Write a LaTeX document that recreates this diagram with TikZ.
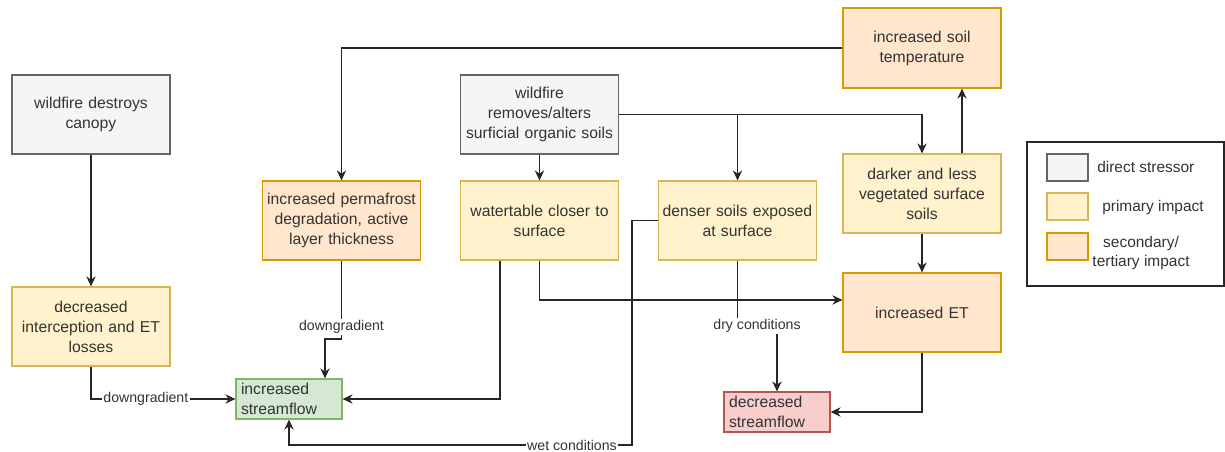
\documentclass[tikz,border=0pt]{standalone}
\usepackage{fontspec}
\setmainfont{Liberation Sans}
\usetikzlibrary{arrows.meta}
\definecolor{grayfill}{HTML}{F5F5F5}
\definecolor{grayline}{HTML}{666666}
\definecolor{yelfill}{HTML}{FFF2CC}
\definecolor{yelline}{HTML}{D6B656}
\definecolor{orfill}{HTML}{FFE6CC}
\definecolor{orline}{HTML}{D79B00}
\definecolor{grfill}{HTML}{D5E8D4}
\definecolor{grline}{HTML}{82B366}
\definecolor{rdfill}{HTML}{F8CECC}
\definecolor{rdline}{HTML}{B85450}
\definecolor{txt}{HTML}{333333}
\tikzset{
  box/.style={draw, line width=0.9pt, minimum width=118.5pt, minimum height=59.25pt,
    align=center, text width=117pt, inner sep=0.5pt, font=\fontsize{11.8}{15}\selectfont, text=txt},
  smallbox/.style={box, minimum width=79.5pt, minimum height=30pt, text width=72pt, inner sep=2pt, align=left},
  stressor/.style={fill=grayfill, draw=grayline},
  primary/.style={fill=yelfill, draw=yelline},
  secondary/.style={fill=orfill, draw=orline},
  conn/.style={draw=black!85, line width=0.85pt, -{Stealth[length=7.5pt,width=7pt]}},
  elabel/.style={fill=white, inner sep=1pt, font=\fontsize{10.6}{12}\selectfont, text=txt},
  swatch/.style={draw, line width=0.9pt, minimum width=30.75pt, minimum height=20.25pt, inner sep=0pt},
  legtext/.style={font=\fontsize{11.6}{14}\selectfont, text=txt, align=center, inner sep=0pt}
}
\begin{document}
\begin{tikzpicture}[x=0.75pt, y=-0.75pt]
\useasboundingbox (0,0) rectangle (1225,451);

% nodes
\node[box, stressor] (canopy) at (91,114.5) {wildfire destroys\\canopy};
\node[box, primary] (inter) at (91,326.5) {decreased\\interception and ET\\losses};
\node[box, secondary] (perm) at (341.5,220.5) {increased permafrost\\degradation, active\\layer thickness};
\node[smallbox, fill=grfill, draw=grline] (sflow) at (289,399) {increased\\streamflow};
\node[box, stressor] (removes) at (539.5,114.5) {wildfire\\removes/alters\\surficial organic soils};
\node[box, primary] (water) at (539.5,220.5) {watertable closer to\\surface};
\node[box, primary] (denser) at (737.5,220.5) {denser soils exposed\\at surface};
\node[box, secondary, minimum height=60pt] (temp) at (922,48) {increased soil\\temperature};
\node[box, primary] (darker) at (922,193.5) {darker and less\\vegetated surface\\soils};
\node[box, secondary] (ET) at (922,312.5) {increased ET};
\node[smallbox, fill=rdfill, draw=rdline] (dsflow) at (777,412) {decreased\\streamflow};

% legend
\node[draw=black!85, line width=0.9pt, minimum width=147.75pt, minimum height=108pt, inner sep=0pt] (legend) at (1125.5,214) {};
\node[swatch, stressor] (sw1) at (1067.5,167.5) {};
\node[swatch, primary] (sw2) at (1067.5,206.5) {};
\node[swatch, secondary] (sw3) at (1067.5,246.5) {};
\node[legtext, anchor=west] (l1) at (1097,167) {direct stressor};
\node[legtext, anchor=west] (l2) at (1102,207) {primary impact};
\node[legtext] (l3) at (1141,253) {secondary/\\tertiary impact};

% helper coordinates
\coordinate (p1) at (325,339);
\coordinate (d1) at (777,326);
\coordinate (w1) at (632,220.5);
\coordinate (w2) at (632,445);

% connectors
\draw[conn] (canopy) -- (inter);
\draw[conn] (inter.south) |- node[elabel, pos=0.69] {downgradient} (sflow.west);
\draw[conn] (temp.west) -| (perm.north);
\draw[conn] (perm.south) |- (p1) -- (p1 |- sflow.north);
\node[elabel] (lab1) at (341.5,327) {downgradient};
\draw[conn] ([xshift=-29.6pt]water.south) |- (sflow.east);
\draw[conn] (removes) -- (water);
\draw[conn] (removes.east) -| (darker.north);
\draw[conn] (removes.east -| denser.north) -- (denser.north);
\draw[conn] (water.south) |- ([yshift=9.4pt]ET.west);
\draw[conn] (denser.south) |- (d1) -- (dsflow.north);
\node[elabel] (lab2) at (757,326) {dry conditions};
\draw[conn] (ET.south) |- (dsflow.east);
\draw[conn] ([xshift=30pt]darker.north) -- ([xshift=30pt]temp.south);
\draw[conn] (darker) -- (ET);
\draw[conn] (denser.west) -- (w1) -- (w2) -| (sflow.south);
\node[elabel] (lab3) at (572,445) {wet conditions};
\end{tikzpicture}
\end{document}
